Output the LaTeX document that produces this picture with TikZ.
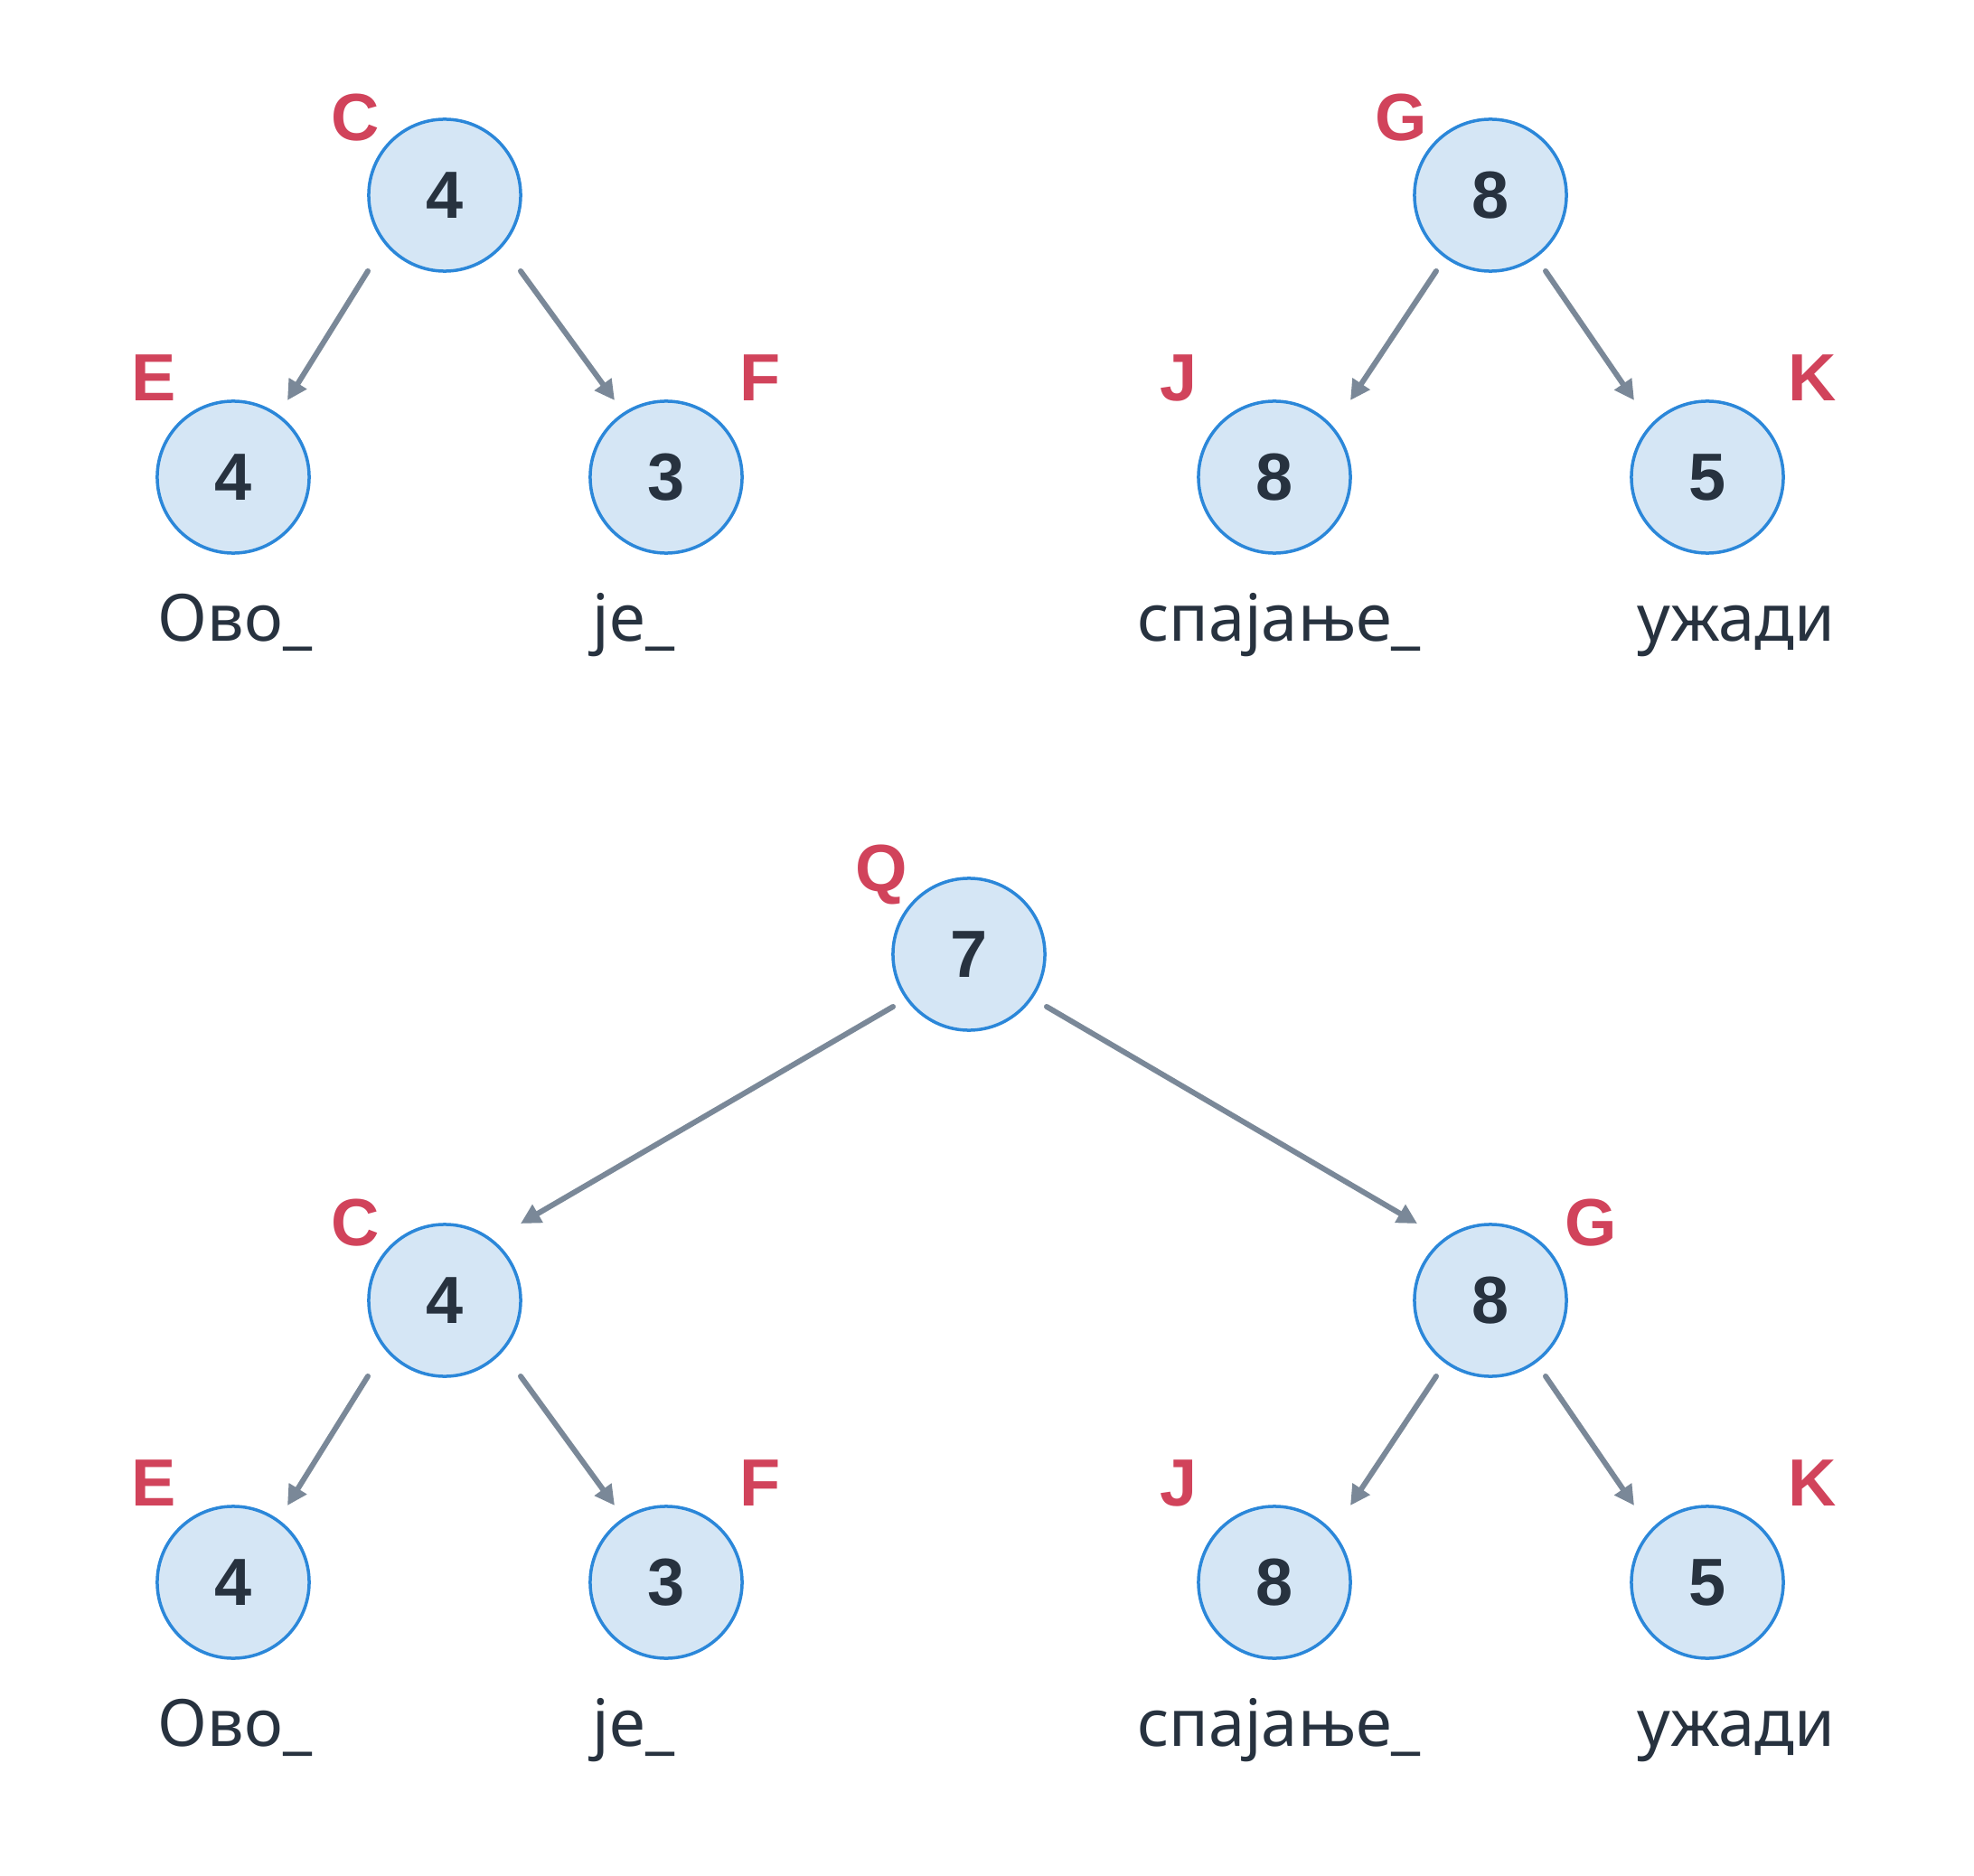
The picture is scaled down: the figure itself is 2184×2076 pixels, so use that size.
\documentclass[tikz,border=0pt]{standalone}
\usepackage{fontspec}
\setmainfont{Noto Sans}
\newfontfamily\heavysans{Liberation Sans}[UprightFont=*-Bold]
\usetikzlibrary{arrows.meta}
\definecolor{nodefill}{HTML}{D5E6F5}
\definecolor{nodeline}{HTML}{2B87D9}
\definecolor{ink}{HTML}{27323F}
\definecolor{tagred}{HTML}{D1435B}
\definecolor{edgegray}{HTML}{7A8898}
\begin{document}
\begin{tikzpicture}[x=0.01cm,y=-0.01cm,
  tn/.style={circle,draw=nodeline,fill=nodefill,line width=0.035cm,
    minimum size=1.68cm,inner sep=0pt,text=ink,
    font=\heavysans\fontsize{21}{24}\selectfont},
  tag/.style={text=tagred,inner sep=0pt,font=\heavysans\fontsize{21}{24}\selectfont},
  word/.style={text=ink,inner sep=0pt,anchor=base,font=\fontsize{20.5}{24}\selectfont},
  edge/.style={draw=edgegray,line width=0.06cm,line cap=round,
    -{Triangle[length=0.22cm,width=0.22cm]}}]
\useasboundingbox[fill=white] (0,0) rectangle (2184,2076);

% top-left tree
\node[tn] (c1) at (492,216) {4};
\node[tn] (e1) at (258,528) {4};
\node[tn] (f1) at (737,528) {3};
\node[tag] (tc1) at ([shift={(-99,-86)}]c1.center) {C};
\node[tag] (te1) at ([shift={(-88,-110)}]e1.center) {E};
\node[tag] (tf1) at ([shift={(104,-110)}]f1.center) {F};
\draw[edge] ([shift={(-85,84)}]c1.center) -- ([shift={(60,-85)}]e1.center);
\draw[edge] ([shift={(84,84)}]c1.center) -- ([shift={(-57,-85)}]f1.center);
\node[word] (w1) at (260,709) {Ово\_};
\node[word] (w2) at (701,709) {је\_};

% top-right tree
\node[tn] (g1) at (1649,216) {8};
\node[tn] (j1) at (1410,528) {8};
\node[tn] (k1) at (1889,528) {5};
\node[tag] (tg1) at ([shift={(-99,-86)}]g1.center) {G};
\node[tag] (tj1) at ([shift={(-106,-110)}]j1.center) {J};
\node[tag] (tk1) at ([shift={(116,-110)}]k1.center) {K};
\draw[edge] ([shift={(-60,84)}]g1.center) -- ([shift={(84,-85)}]j1.center);
\draw[edge] ([shift={(61,84)}]g1.center) -- ([shift={(-81,-85)}]k1.center);
\node[word] (w3) at (1415,709) {спајање\_};
\node[word] (w4) at (1921,709) {ужади};

% merged tree
\node[tn] (q) at (1072,1056) {7};
\node[tag] (tq) at ([shift={(-97,-88)}]q.center) {Q};
\node[tn] (c2) at (492,1439) {4};
\node[tn] (e2) at (258,1751) {4};
\node[tn] (f2) at (737,1751) {3};
\node[tn] (g2) at (1649,1439) {8};
\node[tn] (j2) at (1410,1751) {8};
\node[tn] (k2) at (1889,1751) {5};
\node[tag] (tc2) at ([shift={(-99,-86)}]c2.center) {C};
\node[tag] (te2) at ([shift={(-88,-110)}]e2.center) {E};
\node[tag] (tf2) at ([shift={(104,-110)}]f2.center) {F};
\node[tag] (tg2) at ([shift={(111,-86)}]g2.center) {G};
\node[tag] (tj2) at ([shift={(-106,-110)}]j2.center) {J};
\node[tag] (tk2) at ([shift={(116,-110)}]k2.center) {K};
\draw[edge] ([shift={(-84,58)}]q.center) -- ([shift={(84,-85)}]c2.center);
\draw[edge] ([shift={(86,58)}]q.center) -- ([shift={(-81,-85)}]g2.center);
\draw[edge] ([shift={(-85,84)}]c2.center) -- ([shift={(60,-85)}]e2.center);
\draw[edge] ([shift={(84,84)}]c2.center) -- ([shift={(-57,-85)}]f2.center);
\draw[edge] ([shift={(-60,84)}]g2.center) -- ([shift={(84,-85)}]j2.center);
\draw[edge] ([shift={(61,84)}]g2.center) -- ([shift={(-81,-85)}]k2.center);
\node[word] (w5) at (260,1932) {Ово\_};
\node[word] (w6) at (701,1932) {је\_};
\node[word] (w7) at (1415,1932) {спајање\_};
\node[word] (w8) at (1921,1932) {ужади};
\end{tikzpicture}
\end{document}
